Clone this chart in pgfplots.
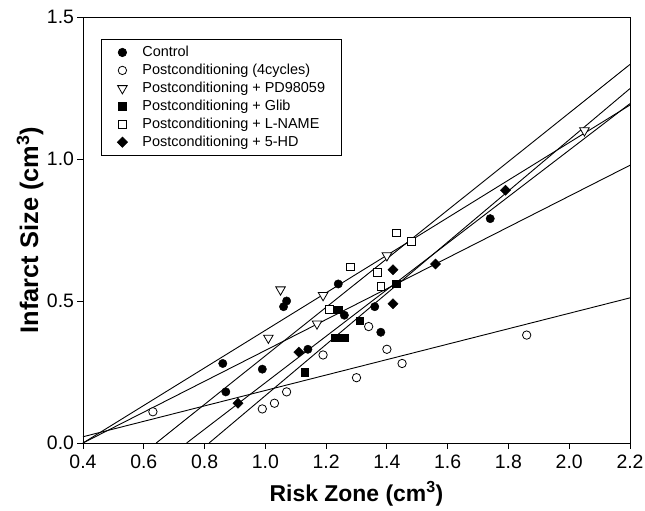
\documentclass[border=0pt]{standalone}
\usepackage{fontspec}
\setmainfont{Liberation Sans}
\usepackage{pgfplots}
\pgfplotsset{compat=1.18}

\begin{document}
\begin{tikzpicture}
\begin{axis}[
    at={(0,0)}, anchor=south west,
    scale only axis,
    width=547bp, height=426bp,
    xmin=0.4, xmax=2.2, ymin=0, ymax=1.5,
    xtick={0.4,0.6,0.8,1.0,1.2,1.4,1.6,1.8,2.0,2.2},
    ytick={0,0.5,1.0,1.5},
    tick pos=left, tick align=outside,
    major tick length=5.5bp,
    axis line style={line width=0.9bp},
    every tick/.style={black, line width=0.9bp},
    /pgf/number format/assume math mode=true,
    tick label style={font=\fontsize{19.5}{22}\selectfont},
    x tick label style={yshift=-3bp, /pgf/number format/.cd, fixed, fixed zerofill, precision=1, /tikz/.cd},
    y tick label style={/pgf/number format/.cd, fixed, fixed zerofill, precision=1, /tikz/.cd},
    xlabel={\bfseries Risk Zone (cm\textsuperscript{3})},
    ylabel={\bfseries Infarct Size (cm\textsuperscript{3})},
    xlabel style={font=\fontsize{23}{26}\selectfont, at={([yshift=-51bp]axis description cs:0.5,0)}, anchor=center},
    ylabel style={font=\fontsize{25.5}{28}\selectfont, at={([xshift=-53bp]axis description cs:0,0.5)}, anchor=center},
    legend style={at={(axis description cs:0.033,0.948)}, anchor=north west,
        draw=black, line width=0.7bp, font=\fontsize{14.5}{17}\selectfont,
        inner xsep=14bp, inner ysep=5bp, row sep=2bp,
        cells={anchor=west},
        /tikz/every odd column/.append style={column sep=11bp}},
    legend image code/.code={
        \path[draw=none, fill=none] (0bp,-4bp) rectangle (14bp,4bp);
        \draw[#1] plot coordinates {(7bp,0bp)};
    },
  ]
  % regression lines
  \addplot[black, line width=0.9bp, forget plot] coordinates {(0.4,0.022) (2.2,0.511)};
  \addplot[black, line width=0.9bp, forget plot] coordinates {(0.4,0.0) (2.2,0.978)};
  \addplot[black, line width=0.9bp, forget plot] coordinates {(0.4,0.0) (2.2,1.19)};
  \addplot[black, line width=0.9bp, forget plot] coordinates {(0.815,0.0) (2.2,1.248)};
  \addplot[black, line width=0.9bp, forget plot] coordinates {(0.641,0.0) (2.2,1.333)};
  \addplot[black, line width=0.9bp, forget plot] coordinates {(0.741,0.0) (2.2,1.195)};

  % Control
  \addplot[only marks, mark=*, mark size=4.2bp, mark options={fill=black, draw=black}] coordinates {
      (0.86,0.28) (0.87,0.18) (0.99,0.26) (1.06,0.48) (1.07,0.50) (1.14,0.33)
      (1.24,0.56) (1.26,0.45) (1.36,0.48) (1.38,0.39) (1.74,0.79)
    };
  \addlegendentry{Control}
  % Postconditioning
  \addplot[only marks, mark=*, mark size=4.2bp, mark options={fill=white, draw=black, line width=0.8bp}] coordinates {
      (0.63,0.11) (0.99,0.12) (1.03,0.14) (1.07,0.18) (1.19,0.31)
      (1.30,0.23) (1.34,0.41) (1.40,0.33) (1.45,0.28) (1.86,0.38)
    };
  \addlegendentry{Postconditioning (4cycles)}
  % PD98059
  \addplot[only marks, mark=triangle*, mark size=5.5bp, mark options={rotate=180, fill=white, draw=black, line width=0.8bp}] coordinates {
      (1.01,0.37) (1.05,0.54) (1.17,0.42) (1.19,0.52) (1.40,0.66) (2.05,1.10)
    };
  \addlegendentry{Postconditioning + PD98059}
  % Glib
  \addplot[only marks, mark=square*, mark size=3.7bp, mark options={fill=black, draw=black}] coordinates {
      (1.13,0.25) (1.23,0.37) (1.26,0.37) (1.24,0.47) (1.31,0.43) (1.43,0.56)
    };
  \addlegendentry{Postconditioning + Glib}
  % L-NAME
  \addplot[only marks, mark=square*, mark size=3.9bp, mark options={fill=white, draw=black, line width=0.8bp}] coordinates {
      (1.21,0.47) (1.28,0.62) (1.37,0.60) (1.38,0.55) (1.43,0.74) (1.48,0.71)
    };
  \addlegendentry{Postconditioning + L-NAME}
  % 5-HD
  \addplot[only marks, mark=square*, mark size=3.6bp, mark options={rotate=45, fill=black, draw=black}] coordinates {
      (0.91,0.14) (1.11,0.32) (1.42,0.61) (1.42,0.49) (1.56,0.63) (1.79,0.89)
    };
  \addlegendentry{Postconditioning + 5-HD}
\end{axis}
\pgfresetboundingbox
\path (-83bp,-68bp) rectangle (562bp,443bp);
\end{tikzpicture}
\end{document}
